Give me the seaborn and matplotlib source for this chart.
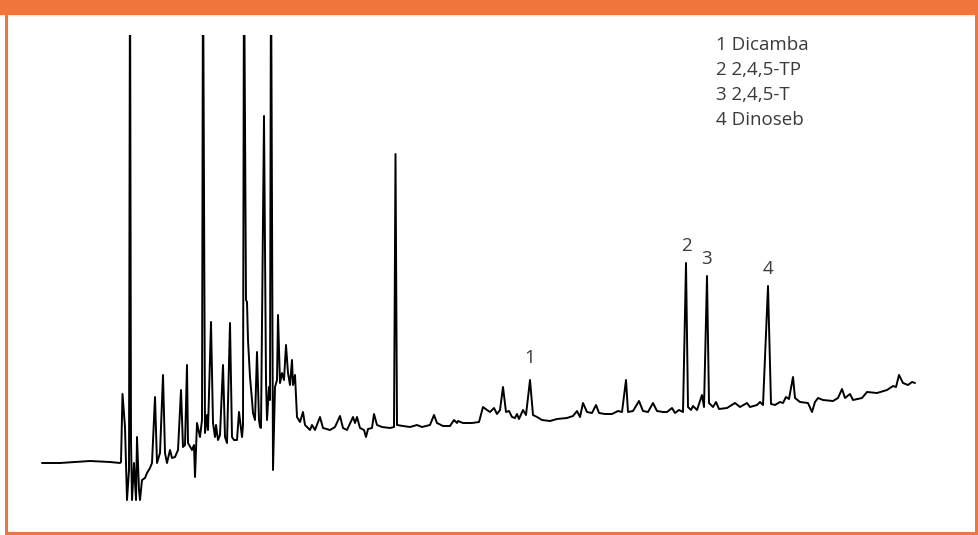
import matplotlib
matplotlib.use("Agg")
import matplotlib.pyplot as plt
from matplotlib.patches import Rectangle
import seaborn as sns
import pandas as pd

# Retention time (s) and detector signal (mV)
time_s = [0, 36, 96, 136, 156, 158, 161, 164, 166, 170, 174, 176, 178, 180, 184, 188, 190, 194,
          196, 200, 206, 210, 216, 220, 226, 230, 236, 242, 246, 250, 256, 260, 266, 272, 278,
          282, 286, 290, 292, 300, 304, 306, 310, 316, 320, 322, 326, 330, 332, 338, 342, 346,
          348, 352, 356, 362, 366, 370, 376, 380, 384, 390, 394, 400, 402, 404, 408, 410, 412,
          416, 420, 422, 426, 430, 434, 436, 438, 444, 448, 450, 454, 456, 458, 462, 466, 470,
          472, 476, 480, 484, 488, 492, 496, 500, 502, 506, 510, 516, 522, 526, 536, 540, 546,
          556, 562, 576, 586, 596, 602, 610, 622, 626, 630, 636, 644, 648, 652, 660, 664, 670,
          680, 696, 704, 707, 710, 722, 736, 750, 760, 776, 784, 790, 802, 816, 824, 830, 832,
          842, 860, 874, 882, 890, 896, 904, 910, 916, 922, 928, 934, 940, 946, 950, 954, 962,
          968, 976, 982, 990, 1000, 1016, 1030, 1050, 1062, 1070, 1076, 1082, 1090, 1100, 1108,
          1114, 1126, 1140, 1152, 1160, 1168, 1172, 1182, 1194, 1202, 1212, 1222, 1230, 1242,
          1250, 1260, 1266, 1274, 1282, 1288, 1292, 1298, 1302, 1310, 1320, 1324, 1330, 1334,
          1342, 1348, 1354, 1370, 1386, 1396, 1410, 1416, 1430, 1436, 1442, 1452, 1458, 1466,
          1476, 1482, 1488, 1494, 1502, 1506, 1516, 1532, 1540, 1546, 1552, 1562, 1582, 1592,
          1600, 1606, 1616, 1622, 1640, 1650, 1670, 1690, 1696, 1702, 1708, 1714, 1722, 1732,
          1740, 1746]
signal_mv = [3, 3, 5, 4, 3, 4, 72, 53, 39, -34, -4, 520, 26, -34, 3, -34, 29, -24,
             -34, -14, -12, -7, -2, 3, 69, 3, 13, 91, 13, 3, 16, 8, 9, 16, 76,
             19, 21, 101, 23, 16, 21, -11, 43, 29, 46, 520, 33, 51, 36, 144, 43, 29,
             41, 26, 31, 101, 29, 23, 143, 29, 26, 26, 54, 29, 41, 520, 166, 164, 126,
             89, 66, 53, 46, 114, 46, 39, 38, 350, 86, 46, 79, 66, 520, -4, 79, 86,
             151, 83, 93, 86, 121, 93, 81, 106, 81, 91, 49, 44, 54, 41, 36, 41, 36,
             49, 38, 36, 39, 50, 38, 36, 49, 43, 49, 38, 36, 29, 37, 38, 52, 41,
             39, 38, 39, 312, 41, 40, 39, 41, 39, 41, 51, 43, 40, 40, 46, 43, 45,
             43, 43, 44, 59, 56, 54, 58, 52, 56, 79, 54, 55, 49, 48, 52, 47, 56,
             51, 86, 51, 49, 46, 45, 47, 48, 50, 55, 49, 63, 54, 53, 61,
             53, 52, 52, 55, 54, 86, 54, 55, 65, 55, 54, 63, 55, 54,
             54, 58, 53, 56, 54, 203, 59, 56, 60, 56, 71, 59, 190, 63,
             59, 64, 57, 58, 63, 59, 63, 59, 61, 64, 61, 180, 62, 61,
             64, 63, 69, 67, 89, 68, 64, 63, 54, 64, 68, 66, 65, 68,
             77, 68, 72, 66, 68, 74, 73, 76, 78, 80, 79, 91, 83, 81,
             84, 83]

# Identified compounds
peak_ids = ["1", "2", "3", "4"]
peak_names = ["Dicamba", "2,4,5-TP", "2,4,5-T", "Dinoseb"]
peak_times = [976, 1288, 1330, 1452]

df = pd.DataFrame({"time": time_s, "signal": signal_mv})

W, H = 979, 535
fig = plt.figure(figsize=(W / 100, H / 100), dpi=100)
sns.set_style("white")
plt.rcParams["font.family"] = ["Open Sans", "DejaVu Sans"]

ax = fig.add_axes([30 / W, 25 / H, 900 / W, 475 / H])
sns.lineplot(data=df, x="time", y="signal", ax=ax, sort=False, estimator=None,
             color="black", linewidth=1.4)
ax.set_xlim(-24, 1776)
ax.set_ylim(-44, 431)
ax.set_axis_off()

text_color = "#3a3a3a"
offsets = {"1": 16, "2": 12, "3": 12, "4": 12}
for pid, t in zip(peak_ids, peak_times):
    y = df.loc[df["time"] == t, "signal"].iloc[0]
    ax.annotate(pid, xy=(t, y), xytext=(0, offsets[pid]), textcoords="offset points",
                ha="center", va="center", fontsize=13.5, color=text_color)

legend_lines = [f"{i} {n}" for i, n in zip(peak_ids, peak_names)]
for k, line in enumerate(legend_lines):
    fig.text(716 / W, 1 - (45 + 25 * k) / H, line, ha="left", va="center",
             fontsize=13.5, color=text_color)

orange = "#F0753A"
fig.add_artist(Rectangle((0, 1 - 15 / H), 1, 15 / H, transform=fig.transFigure,
                         color=orange, lw=0))
fig.add_artist(Rectangle((5 / W, 0), 3 / W, 1, transform=fig.transFigure,
                         color=orange, lw=0))
fig.add_artist(Rectangle((5 / W, 0), 1, 3 / H, transform=fig.transFigure,
                         color=orange, lw=0))
fig.add_artist(Rectangle((975 / W, 0), 3 / W, 1, transform=fig.transFigure,
                         color=orange, lw=0))

fig.savefig("out.png", dpi=100, facecolor="white")
